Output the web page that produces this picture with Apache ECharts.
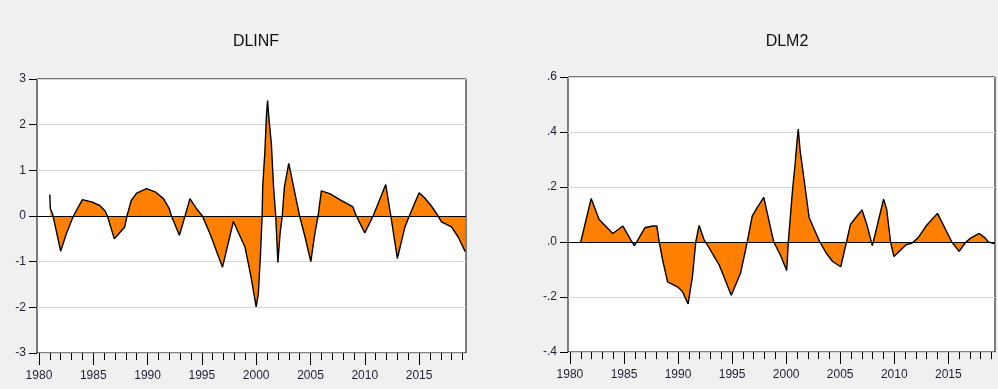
<!DOCTYPE html>
<html>
<head>
<meta charset="utf-8">
<title>DLINF / DLM2</title>
<script src="https://cdn.jsdelivr.net/npm/echarts@6/dist/echarts.min.js"></script>
<style>
  html, body { margin: 0; padding: 0; background: #f0f0f0; }
  #chart { width: 998px; height: 389px; }
</style>
</head>
<body>
<div id="chart"></div>
<script>
// DLINF: time (fractional year) and value
const dlinfTime = [
  1981.00, 1981.05, 1981.25, 1982.00, 1982.55, 1983.17, 1984.00, 1984.85, 1985.60, 1986.10,
  1986.30, 1986.94, 1987.90, 1988.10, 1988.50, 1989.00, 1989.90, 1990.70, 1991.46, 1992.00,
  1992.20, 1992.93, 1993.45, 1993.90, 1994.50, 1995.05, 1995.75, 1996.90, 1997.90, 1998.97,
  1999.50, 2000.00, 2000.20, 2000.40, 2000.55, 2000.60, 2000.80, 2000.94, 2001.05, 2001.15,
  2001.40, 2001.60, 2001.80, 2002.00, 2002.20, 2002.40, 2002.60, 2003.00, 2003.20, 2003.70,
  2004.00, 2004.50, 2005.03, 2005.40, 2005.70, 2006.00, 2006.77, 2007.70, 2008.90, 2009.20,
  2010.00, 2010.77, 2011.93, 2012.40, 2013.00, 2013.70, 2014.10, 2015.00, 2015.50, 2016.10,
  2016.75, 2017.06, 2017.98, 2018.60, 2019.25
];
const dlinfValues = [
  0.47, 0.16, 0.05, -0.77, -0.37, 0.00, 0.36, 0.31, 0.23, 0.11,
  0.00, -0.50, -0.24, 0.00, 0.34, 0.50, 0.60, 0.53, 0.38, 0.16,
  0.00, -0.42, 0.00, 0.38, 0.16, 0.00, -0.39, -1.12, -0.12, -0.68,
  -1.30, -1.99, -1.70, -0.82, 0.00, 0.64, 1.40, 2.17, 2.53, 2.20,
  1.58, 0.64, 0.00, -1.02, -0.39, 0.00, 0.64, 1.15, 0.93, 0.34,
  0.00, -0.46, -1.00, -0.39, 0.00, 0.55, 0.49, 0.36, 0.20, 0.01,
  -0.37, 0.00, 0.69, 0.00, -0.93, -0.24, 0.00, 0.51, 0.40, 0.23,
  0.00, -0.13, -0.24, -0.46, -0.78
];

// DLM2: time (fractional year) and value
const dlm2Time = [
  1981.00, 1981.96, 1982.70, 1983.96, 1984.90, 1985.65, 1985.96, 1986.30, 1986.94, 1987.65,
  1988.04, 1988.26, 1988.57, 1989.03, 1989.95, 1990.40, 1990.93, 1991.33, 1991.64, 1991.95,
  1992.40, 1992.70, 1993.80, 1994.92, 1995.78, 1996.40, 1996.86, 1997.32, 1997.93, 1998.85,
  1999.50, 2000.05, 2000.20, 2000.60, 2000.82, 2001.00, 2001.12, 2001.30, 2001.65, 2002.13,
  2002.81, 2003.12, 2003.70, 2004.30, 2005.05, 2005.58, 2005.95, 2006.50, 2007.02, 2007.50,
  2007.97, 2008.30, 2009.01, 2009.30, 2009.66, 2009.97, 2011.10, 2011.66, 2012.20, 2012.94,
  2014.00, 2015.33, 2016.00, 2016.63, 2017.10, 2017.86, 2018.40, 2018.70, 2019.25
];
const dlm2Values = [
  0.000, 0.158, 0.082, 0.031, 0.058, 0.006, -0.013, 0.009, 0.052, 0.058,
  0.058, 0.000, -0.065, -0.145, -0.163, -0.180, -0.225, -0.126, 0.000, 0.060,
  0.009, -0.010, -0.083, -0.194, -0.114, 0.000, 0.094, 0.125, 0.162, 0.000,
  -0.050, -0.104, 0.000, 0.193, 0.279, 0.364, 0.411, 0.330, 0.230, 0.088,
  0.027, 0.000, -0.040, -0.071, -0.090, 0.000, 0.064, 0.092, 0.117, 0.058,
  -0.013, 0.039, 0.156, 0.119, 0.000, -0.053, -0.010, -0.004, 0.015, 0.058,
  0.104, 0.000, -0.034, 0.000, 0.015, 0.031, 0.015, 0.000, -0.006
];

// Axis ticks
const yearTicks = [];
for (let y = 1980; y <= 2019; y++) yearTicks.push(y);
const yearLabels = [1980, 1985, 1990, 1995, 2000, 2005, 2010, 2015];
const xMin = 1979.82;
const xMax = 2019.32;

const titles = ['DLINF', 'DLM2'];

const FONT = 'Liberation Sans, Arial, sans-serif';
const TEXT = '#1c1f33';
const FILL = '#ff8000';

function pairs(t, v) {
  return t.map((x, i) => [x, v[i]]);
}

function m2Label(v) {
  const s = (Math.round(v * 10) / 10).toFixed(1);
  return s.replace(/^(-?)0\./, '$1.');
}

function xAxes(gridIndex) {
  return [
    {
      type: 'value', gridIndex, min: xMin, max: xMax, position: 'bottom',
      axisLine: { show: false, onZero: false },
      splitLine: { show: false },
      axisTick: { show: true, inside: false, length: 7, customValues: yearTicks,
                  lineStyle: { color: '#000', width: 1 } },
      axisLabel: { show: false }
    },
    {
      type: 'value', gridIndex, min: xMin, max: xMax, position: 'bottom',
      axisLine: { show: false, onZero: false },
      splitLine: { show: false },
      axisTick: { show: true, inside: false, length: 12, customValues: yearLabels,
                  lineStyle: { color: '#000', width: 1 } },
      axisLabel: { show: true, customValues: yearLabels, margin: 17,
                   fontFamily: FONT, fontSize: 12, color: TEXT,
                   formatter: v => String(Math.round(v)) }
    }
  ];
}

function yAxis(gridIndex, min, max, interval, formatter) {
  return {
    type: 'value', gridIndex, min, max, interval,
    axisLine: { show: false, onZero: false },
    axisTick: { show: true, inside: false, length: 8, lineStyle: { color: '#000', width: 1 } },
    axisLabel: { margin: 11, fontFamily: FONT, fontSize: 12, color: TEXT, formatter },
    splitLine: { show: true, lineStyle: { color: '#d6d6d6', width: 1 } }
  };
}

function areaSeries(xAxisIndex, yAxisIndex, data) {
  return {
    type: 'line', xAxisIndex, yAxisIndex, data,
    showSymbol: false, symbol: 'none', animation: false, silent: true,
    lineStyle: { color: '#000', width: 1.4 },
    areaStyle: { color: FILL, opacity: 1, origin: 0 },
    markLine: {
      silent: true, symbol: 'none', animation: false,
      label: { show: false },
      lineStyle: { color: '#000', width: 1, type: 'solid' },
      data: [{ yAxis: 0 }]
    }
  };
}

const chart = echarts.init(document.getElementById('chart'), null, { renderer: 'canvas' });

chart.setOption({
  backgroundColor: '#f0f0f0',
  animation: false,
  title: [
    { text: titles[0], left: 251, top: 29, textAlign: 'center',
      textStyle: { fontFamily: FONT, fontSize: 16, fontWeight: 'normal', color: '#111' } },
    { text: titles[1], left: 782, top: 29, textAlign: 'center',
      textStyle: { fontFamily: FONT, fontSize: 16, fontWeight: 'normal', color: '#111' } }
  ],
  grid: [
    { left: 37, top: 79, width: 429, height: 274, show: true,
      backgroundColor: '#fff', borderColor: '#000', borderWidth: 1 },
    { left: 568, top: 77, width: 427, height: 275, show: true,
      backgroundColor: '#fff', borderColor: '#000', borderWidth: 1 }
  ],
  xAxis: [...xAxes(0), ...xAxes(1)],
  yAxis: [
    yAxis(0, -3, 3, 1, v => String(Math.round(v))),
    yAxis(1, -0.4, 0.6, 0.2, m2Label)
  ],
  series: [
    areaSeries(0, 0, pairs(dlinfTime, dlinfValues)),
    areaSeries(2, 1, pairs(dlm2Time, dlm2Values))
  ]
});
</script>
</body>
</html>
